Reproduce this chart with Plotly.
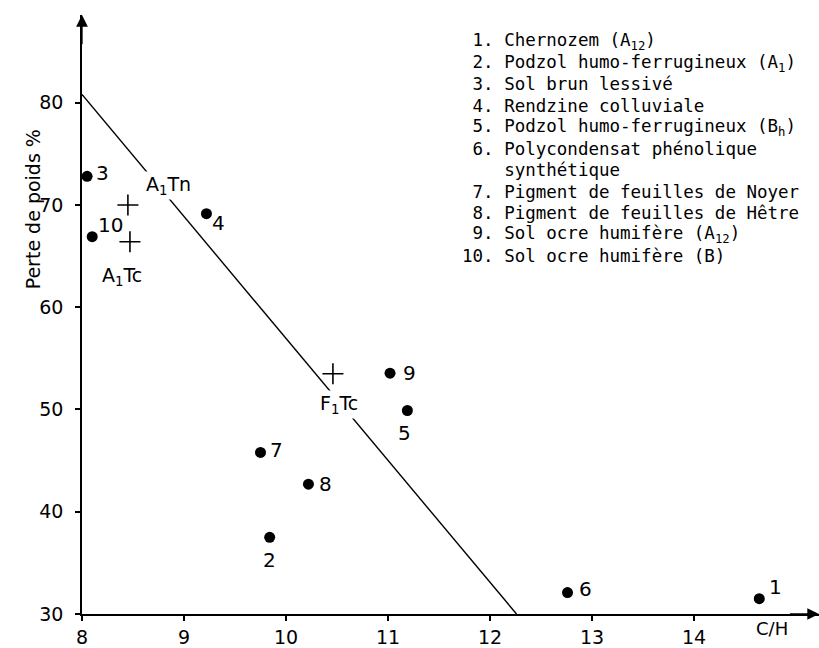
import plotly.graph_objects as go

# --- data -----------------------------------------------------------------
# Numbered samples: C/H atomic ratio and weight loss (%)
sample_ids = ["1", "2", "3", "4", "5", "6", "7", "8", "9", "10"]
ch_ratio = [14.64, 9.84, 8.05, 9.22, 11.19, 12.76, 9.75, 10.22, 11.02, 8.10]
weight_loss = [31.5, 37.5, 72.8, 69.15, 49.9, 32.1, 45.8, 42.7, 53.55, 66.9]

# Reference fractions (crosses)
ref_names = ["A<sub>1</sub>Tn", "A<sub>1</sub>Tc", "F<sub>1</sub>Tc"]
ref_ch = [8.45, 8.47, 10.46]
ref_loss = [70.0, 66.4, 53.5]

# Separation line
boundary_ch = [8.0, 12.26]
boundary_loss = [80.8, 30.0]

# Key of the numbered samples
sample_names = [
    "Chernozem (A<sub>12</sub>)",
    "Podzol humo-ferrugineux (A<sub>1</sub>)",
    "Sol brun lessivé",
    "Rendzine colluviale",
    "Podzol humo-ferrugineux (B<sub>h</sub>)",
    "Polycondensat phénolique<br>synthétique",
    "Pigment de feuilles de Noyer",
    "Pigment de feuilles de Hêtre",
    "Sol ocre humifère (A<sub>12</sub>)",
    "Sol ocre humifère (B)",
]

x_ticks = [8, 9, 10, 11, 12, 13, 14]
y_ticks = [30, 40, 50, 60, 70, 80]

# --- layout constants ------------------------------------------------------
W, H = 819, 648
ML, MR, MT, MB = 82, 0, 15, 32
PW, PH = W - ML - MR, H - MT - MB
X0, PX_PER_X = 8.0, 102.0
Y0, PX_PER_Y = 30.0, 10.26
x_range = [X0, X0 + PW / PX_PER_X]
y_range = [Y0, Y0 + PH / PX_PER_Y]

NUM_FONT = dict(family="DejaVu Sans", size=20, color="black")
REF_FONT = dict(family="DejaVu Sans", size=19, color="black")
MONO_FONT = dict(family="DejaVu Sans Mono", size=17.5, color="black")

# pixel offsets (dx right, dy down) of each number relative to its marker
sample_label_offsets = {
    "1": (16, -12), "2": (0, 23), "3": (15, -3), "4": (12, 9), "5": (-3, 22),
    "6": (18, -4), "7": (16, -2), "8": (17, 0), "9": (19, 0), "10": (18, -12),
}
ref_label_offsets = [(41, -19), (-8, 35), (6, 31)]

fig = go.Figure()

fig.add_trace(go.Scatter(
    x=boundary_ch, y=boundary_loss, mode="lines",
    line=dict(color="black", width=1.4), hoverinfo="skip",
))
fig.add_trace(go.Scatter(
    x=ch_ratio, y=weight_loss, mode="markers",
    marker=dict(color="black", size=11),
))
fig.add_trace(go.Scatter(
    x=ref_ch, y=ref_loss, mode="markers",
    marker=dict(symbol="cross-thin", size=15, color="black",
                line=dict(color="black", width=1.6)),
))

annotations = []
for sid, cx, cy in zip(sample_ids, ch_ratio, weight_loss):
    dx, dy = sample_label_offsets[sid]
    annotations.append(dict(
        x=cx, y=cy, xref="x", yref="y", text=sid, showarrow=False,
        xshift=dx, yshift=-dy, font=NUM_FONT,
    ))

for name, cx, cy, (dx, dy) in zip(ref_names, ref_ch, ref_loss, ref_label_offsets):
    annotations.append(dict(
        x=cx, y=cy, xref="x", yref="y", text=name, showarrow=False,
        xshift=dx, yshift=-dy, font=REF_FONT, bgcolor="white", borderpad=1,
    ))

# key, one text row per line in a monospace font
NBSP = "\u00a0"
rows = []
for i, name in enumerate(sample_names, start=1):
    parts = name.split("<br>")
    rows.append(f"{i:>2}. {parts[0]}".replace(" ", NBSP, 1) if i < 10 else f"{i}. {parts[0]}")
    for cont in parts[1:]:
        rows.append(NBSP * 4 + cont)
KEY_LEFT_PX, KEY_TOP_PX, KEY_STEP_PX = 459.5, 41.7, 21.5
for r, row in enumerate(rows):
    py = KEY_TOP_PX + r * KEY_STEP_PX
    annotations.append(dict(
        x=(KEY_LEFT_PX - ML) / PW, y=(H - MB - py) / PH,
        xref="paper", yref="paper", xanchor="left", yanchor="middle",
        text=row, showarrow=False, font=MONO_FONT, align="left",
    ))

# axis titles
annotations.append(dict(
    x=0, y=Y0 + (H - MB - 210) / PX_PER_Y, xref="paper", yref="y",
    xshift=-(ML - 20), text="Perte de poids %", textangle=-90,
    showarrow=False, font=dict(family="DejaVu Sans", size=19, color="black"),
))
annotations.append(dict(
    x=X0 + (772 - ML) / PX_PER_X, y=Y0, xref="x", yref="y", yanchor="top",
    yshift=-2, text="C/H", showarrow=False,
    font=dict(family="DejaVu Sans", size=18, color="black"),
))

# arrow heads at the ends of both axes
annotations.append(dict(
    x=X0, y=y_range[1], xref="x", yref="y", ax=X0, ay=y_range[1] - 3,
    axref="x", ayref="y", showarrow=True, arrowhead=2, arrowsize=1.8,
    arrowwidth=1.3, arrowcolor="black", text="",
))
annotations.append(dict(
    x=x_range[1], y=Y0, xref="x", yref="y", ax=x_range[1] - 0.3, ay=Y0,
    axref="x", ayref="y", showarrow=True, arrowhead=2, arrowsize=1.8,
    arrowwidth=1.3, arrowcolor="black", text="",
))

axis_common = dict(
    showline=True, linecolor="black", linewidth=1.5, showgrid=False,
    zeroline=False, ticks="outside", ticklen=5, tickwidth=1.5,
    tickcolor="black", tickfont=dict(family="DejaVu Sans", size=19, color="black"),
)

fig.update_layout(
    width=W, height=H,
    margin=dict(l=ML, r=MR, t=MT, b=MB, pad=0),
    paper_bgcolor="white", plot_bgcolor="white",
    showlegend=False,
    xaxis=dict(range=x_range, tickvals=x_ticks, **axis_common),
    yaxis=dict(range=y_range, tickvals=y_ticks, ticklabelstandoff=8, **axis_common),
    annotations=annotations,
)

fig.write_html("out.html")
